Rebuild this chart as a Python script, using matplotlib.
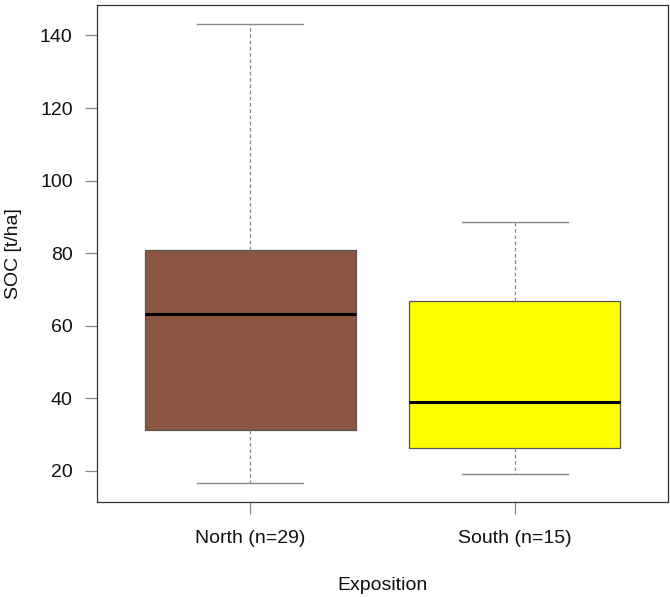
import matplotlib
matplotlib.use('Agg')
import matplotlib.pyplot as plt

# box statistics (t/ha)
groups = ['North (n=29)', 'South (n=15)']
whislo = [16.5, 19.2]
q1 = [31.3, 26.4]
med = [63.1, 39.1]
q3 = [81.0, 66.8]
whishi = [143.3, 88.7]
box_colors = ['#8B5742', '#FFFF00']
yticks = [20, 40, 60, 80, 100, 120, 140]

plt.rcParams['font.family'] = ['Liberation Sans', 'DejaVu Sans']

fig = plt.figure(figsize=(6.7, 5.97), dpi=100)
ax = fig.add_axes([97 / 670, 1 - 502 / 597, 571 / 670, 497 / 597])

stats = []
for i in range(len(groups)):
    stats.append({'label': groups[i], 'whislo': whislo[i], 'q1': q1[i],
                  'med': med[i], 'q3': q3[i], 'whishi': whishi[i], 'fliers': []})

bp = ax.bxp(stats, positions=[1, 2], widths=0.8, patch_artist=True,
            showfliers=False,
            boxprops=dict(edgecolor='#555555', linewidth=0.9),
            medianprops=dict(color='black', linewidth=2.2, solid_capstyle='butt'),
            whiskerprops=dict(color='#888888', linewidth=0.9, linestyle=(0, (3, 2))),
            capprops=dict(color='#888888', linewidth=1.0),
            capwidths=0.4)
for patch, c in zip(bp['boxes'], box_colors):
    patch.set_facecolor(c)

ax.set_xlim(0.42, 2.58)
ax.set_ylim(11.4, 148.4)
ax.set_yticks(yticks)
ax.set_yticklabels([str(t) for t in yticks])
ax.set_xticks([1, 2])
ax.set_xticklabels(groups)

ax.tick_params(axis='both', length=8.5, width=0.9, color='#888888',
               labelsize=14, labelcolor='#111111')
ax.tick_params(axis='y', pad=9)
ax.tick_params(axis='x', pad=12)
for s in ax.spines.values():
    s.set_color('#333333')
    s.set_linewidth(0.9)

ax.set_xlabel('Exposition', fontsize=14, color='#111111', va='center')
ax.xaxis.set_label_coords(0.5, -0.168)
ax.set_ylabel('SOC [t/ha]', fontsize=14, color='#111111', va='center')
ax.yaxis.set_label_coords(-0.147, 0.5)

fig.savefig('out.png', dpi=100)
